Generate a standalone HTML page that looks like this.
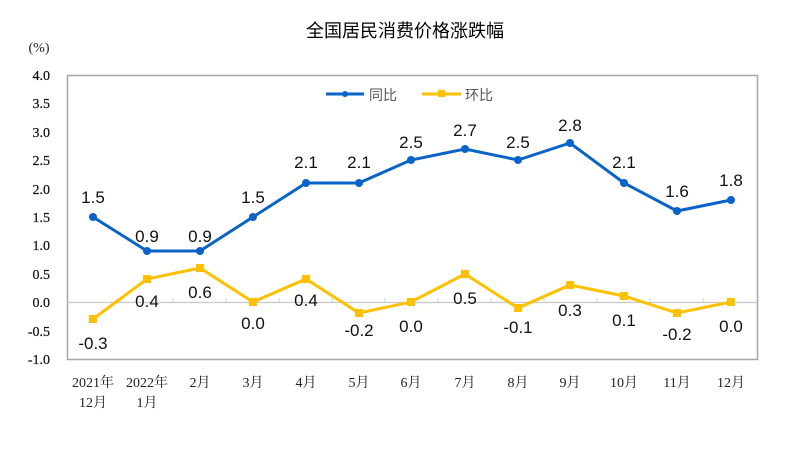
<!DOCTYPE html>
<html><head><meta charset="utf-8"><style>
html,body{margin:0;padding:0;background:#fff;}
svg{display:block;}
</style></head><body>
<svg width="785" height="450" xmlns="http://www.w3.org/2000/svg">
<text x="405" y="37" font-family="Liberation Sans,'Noto Sans CJK SC',sans-serif" font-size="18" text-anchor="middle" fill="#000">全国居民消费价格涨跌幅</text>
<text x="39" y="52" font-family="Liberation Serif,serif" font-size="14" text-anchor="middle" fill="#222">(%)</text>
<rect x="67.5" y="75.5" width="690" height="284" fill="none" stroke="#a6a6a6" stroke-width="1.5"/>
<line x1="67" y1="302.5" x2="757" y2="302.5" stroke="#c8c8c8" stroke-width="1.2"/>
<g stroke="#d0d0d0" stroke-width="1">
<line x1="120" y1="298" x2="120" y2="302"/><line x1="173" y1="298" x2="173" y2="302"/><line x1="226" y1="298" x2="226" y2="302"/><line x1="279" y1="298" x2="279" y2="302"/><line x1="332" y1="298" x2="332" y2="302"/><line x1="385" y1="298" x2="385" y2="302"/><line x1="438" y1="298" x2="438" y2="302"/><line x1="491" y1="298" x2="491" y2="302"/><line x1="544" y1="298" x2="544" y2="302"/><line x1="597" y1="298" x2="597" y2="302"/><line x1="650" y1="298" x2="650" y2="302"/><line x1="703" y1="298" x2="703" y2="302"/>
</g>
<g font-family="Liberation Serif,serif" font-size="14" fill="#111" text-anchor="end" stroke="#111" stroke-width="0.25">
<text x="50" y="80">4.0</text><text x="50" y="108">3.5</text><text x="50" y="137">3.0</text><text x="50" y="165">2.5</text><text x="50" y="194">2.0</text><text x="50" y="222">1.5</text><text x="50" y="250">1.0</text><text x="50" y="279">0.5</text><text x="50" y="307">0.0</text><text x="50" y="336">-0.5</text><text x="50" y="364">-1.0</text>
</g>
<g font-family="Liberation Serif,'Noto Serif CJK SC',serif" font-size="14" fill="#222" text-anchor="middle">
<text x="93" y="387">2021年</text><text x="93" y="407">12月</text>
<text x="147" y="387">2022年</text><text x="147" y="407">1月</text>
<text x="200" y="387">2月</text><text x="253" y="387">3月</text><text x="306" y="387">4月</text><text x="359" y="387">5月</text><text x="411" y="387">6月</text><text x="465" y="387">7月</text><text x="518" y="387">8月</text><text x="570" y="387">9月</text><text x="624" y="387">10月</text><text x="677" y="387">11月</text><text x="731" y="387">12月</text>
</g>
<line x1="326" y1="94" x2="364" y2="94" stroke="#0a63c9" stroke-width="3"/>
<circle cx="345" cy="94" r="3" fill="#0a63c9"/>
<text x="369" y="100" font-family="Liberation Sans,'Noto Sans CJK SC',sans-serif" font-size="14" fill="#555">同比</text>
<line x1="422" y1="94" x2="461" y2="94" stroke="#ffc000" stroke-width="3"/>
<rect x="438" y="90" width="7" height="7" fill="#ffc000"/>
<text x="465" y="100" font-family="Liberation Sans,'Noto Sans CJK SC',sans-serif" font-size="14" fill="#555">环比</text>
<polyline fill="none" stroke="#ffc000" stroke-width="3" points="93,319 147,279 200,268 253,302 306,279 359,313 411,302 465,274 518,308 570,285 624,296 677,313 731,302"/>
<g fill="#ffc000">
<rect x="89" y="315" width="8" height="8"/><rect x="143" y="275" width="8" height="8"/><rect x="196" y="264" width="8" height="8"/><rect x="249" y="298" width="8" height="8"/><rect x="302" y="275" width="8" height="8"/><rect x="355" y="309" width="8" height="8"/><rect x="407" y="298" width="8" height="8"/><rect x="461" y="270" width="8" height="8"/><rect x="514" y="304" width="8" height="8"/><rect x="566" y="281" width="8" height="8"/><rect x="620" y="292" width="8" height="8"/><rect x="673" y="309" width="8" height="8"/><rect x="727" y="298" width="8" height="8"/>
</g>
<polyline fill="none" stroke="#0a63c9" stroke-width="3" points="93,217 147,251 200,251 253,217 306,183 359,183 411,160 465,149 518,160 570,143 624,183 677,211 731,200"/>
<g fill="#0a63c9">
<circle cx="93" cy="217" r="4"/><circle cx="147" cy="251" r="4"/><circle cx="200" cy="251" r="4"/><circle cx="253" cy="217" r="4"/><circle cx="306" cy="183" r="4"/><circle cx="359" cy="183" r="4"/><circle cx="411" cy="160" r="4"/><circle cx="465" cy="149" r="4"/><circle cx="518" cy="160" r="4"/><circle cx="570" cy="143" r="4"/><circle cx="624" cy="183" r="4"/><circle cx="677" cy="211" r="4"/><circle cx="731" cy="200" r="4"/>
</g>
<g font-family="Liberation Sans,sans-serif" font-size="17" fill="#111" text-anchor="middle">
<text x="93" y="203">1.5</text><text x="147" y="242">0.9</text><text x="200" y="242">0.9</text><text x="253" y="203">1.5</text><text x="306" y="168">2.1</text><text x="359" y="168">2.1</text><text x="411" y="148">2.5</text><text x="465" y="136">2.7</text><text x="518" y="148">2.5</text><text x="570" y="131">2.8</text><text x="624" y="168">2.1</text><text x="677" y="197">1.6</text><text x="731" y="186">1.8</text>
<text x="93" y="349">-0.3</text><text x="147" y="307">0.4</text><text x="200" y="298">0.6</text><text x="253" y="329">0.0</text><text x="306" y="306">0.4</text><text x="359" y="336">-0.2</text><text x="411" y="332">0.0</text><text x="465" y="304">0.5</text><text x="518" y="333">-0.1</text><text x="570" y="316">0.3</text><text x="624" y="326">0.1</text><text x="677" y="340">-0.2</text><text x="731" y="332">0.0</text>
</g>
</svg>
</body></html>
